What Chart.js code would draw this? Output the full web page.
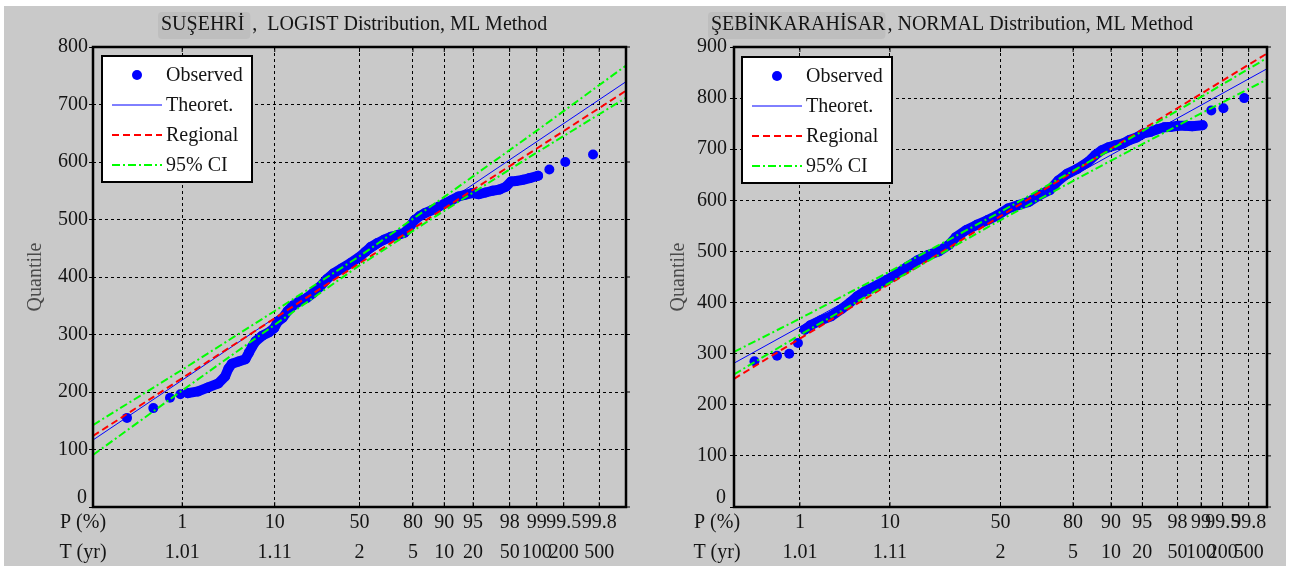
<!DOCTYPE html>
<html>
<head>
<meta charset="utf-8">
<script src="https://cdn.jsdelivr.net/npm/chart.js@4.4.1/dist/chart.umd.min.js"></script>
<style>
html, body { margin: 0; padding: 0; background: #fff; }
#bg { position: absolute; left: 4px; top: 6px; width: 1282px; height: 560px; background: #c9c9c9; }
canvas { position: absolute; top: 0; }
#left { left: 0; }
#right { left: 645px; }
</style>
</head>
<body>
<div id="bg"></div>
<canvas id="left" width="645" height="566"></canvas>
<canvas id="right" width="645" height="566"></canvas>
<script>
// probability paper ticks (non-exceedance %, return period)
const pTicks = [1, 10, 50, 80, 90, 95, 98, 99, 99.5, 99.8];
const tLabels = ['1.01', '1.11', '2', '5', '10', '20', '50', '100', '200', '500'];
// P (%) where the fitted lines were read
const linePct = [0.1, 1, 10, 50, 90, 99, 99.9];

// SUŞEHRİ, logistic paper: x = reduced variate ln(p/(1-p))
const suObsVar = [-6.025, -5.343, -4.912, -4.642, -4.447, -4.185, -3.923, -3.658, -3.484, -3.396,
  -3.307, -3.133, -2.957, -2.869, -2.780, -2.695, -2.518, -2.342, -2.212, -2.124,
  -1.991, -1.861, -1.729, -1.552, -1.378, -1.202, -1.028, -0.851, -0.678, -0.457,
  -0.239, -0.018, 0.156, 0.288, 0.465, 0.639, 0.815, 0.989, 1.166, 1.298,
  1.428, 1.560, 1.693, 1.867, 2.043, 2.217, 2.394, 2.567, 2.744, 2.921,
  3.094, 3.271, 3.445, 3.621, 3.795, 3.928, 4.060, 4.234, 4.411, 4.629,
  4.920, 5.332, 6.052];
const suObsQ = [155, 172, 190, 196, 198, 201, 208, 215, 227, 241,
  249, 253, 257, 268, 279, 288, 298, 304, 311, 322,
  329, 341, 350, 358, 363, 372, 383, 396, 406, 415,
  424, 434, 444, 452, 459, 465, 470, 473, 477, 487,
  499, 506, 511, 516, 522, 528, 534, 540, 543, 546,
  544, 547, 550, 552, 557, 566, 567, 569, 572, 576,
  587, 600, 613];
const suBand = [4, 59];
const suTheo = [116.5, 220.7, 328.9, 428.1, 527.3, 635.5, 739.7];
const suReg = [123.5, 224, 328.2, 423.8, 519.3, 623.5, 724];
const suCiUp = [142.5, 238.7, 340.9, 436.1, 539.3, 654.5, 767.7];
const suCiLo = [90.5, 202.7, 316.9, 420.1, 515.3, 616.5, 711.7];

// ŞEBİNKARAHİSAR, normal paper: x = standard normal variate z
const sbObsVar = [-2.853, -2.591, -2.450, -2.349, -2.269, -2.209, -2.087, -1.966, -1.846, -1.745,
  -1.664, -1.563, -1.443, -1.322, -1.202, -1.080, -0.959, -0.839, -0.718, -0.597,
  -0.517, -0.395, -0.275, -0.154, -0.034, 0.088, 0.209, 0.329, 0.450, 0.571,
  0.672, 0.773, 0.893, 1.014, 1.095, 1.175, 1.256, 1.336, 1.417, 1.497,
  1.578, 1.658, 1.739, 1.819, 1.900, 1.980, 2.061, 2.141, 2.222, 2.343,
  2.444, 2.585, 2.826];
const sbObsQ = [285, 296, 300, 321, 347, 355, 365, 373, 387, 400,
  412, 423, 433, 444, 456, 470, 483, 493, 500, 513,
  528, 542, 552, 561, 571, 584, 591, 597, 610, 620,
  639, 652, 662, 675, 688, 698, 704, 708, 711, 718,
  723, 731, 734, 739, 743, 744, 746, 746, 745, 747,
  776, 780, 800];
const sbBand = [4, 49];
const sbTheo = [281.4, 352.6, 450, 569.4, 688.8, 786.2, 857.4];
const sbReg = [250.7, 329.4, 437, 569, 701, 808.6, 887.3];
const sbCiUp = [303.4, 368.6, 461, 577.4, 699.8, 802.2, 878.4];
const sbCiLo = [259.4, 336.6, 439, 561.4, 677.8, 770.2, 836.4];

const FONT_FAMILY = '"Liberation Serif", "Times New Roman", serif';
const TEXT = '#141414';
Chart.defaults.font.family = FONT_FAMILY;
Chart.defaults.font.size = 20;
Chart.defaults.color = TEXT;

function logit(p) { return Math.log(p / (1 - p)); }

// inverse standard normal cdf (Acklam)
function probit(p) {
  const a = [-39.69683028665376, 220.9460984245205, -275.9285104469687, 138.3577518672690, -30.66479806614716, 2.506628277459239];
  const b = [-54.47609879822406, 161.5858368580409, -155.6989798598866, 66.80131188771972, -13.28068155288572];
  const c = [-0.007784894002430293, -0.3223964580411365, -2.400758277161838, -2.549732539343734, 4.374664141464968, 2.938163982698783];
  const d = [0.007784695709041462, 0.3224671290700398, 2.445134137142996, 3.754408661907416];
  const pl = 0.02425;
  let q, r;
  if (p < pl) {
    q = Math.sqrt(-2 * Math.log(p));
    return (((((c[0] * q + c[1]) * q + c[2]) * q + c[3]) * q + c[4]) * q + c[5]) / ((((d[0] * q + d[1]) * q + d[2]) * q + d[3]) * q + 1);
  }
  if (p > 1 - pl) {
    q = Math.sqrt(-2 * Math.log(1 - p));
    return -(((((c[0] * q + c[1]) * q + c[2]) * q + c[3]) * q + c[4]) * q + c[5]) / ((((d[0] * q + d[1]) * q + d[2]) * q + d[3]) * q + 1);
  }
  q = p - 0.5; r = q * q;
  return (((((a[0] * r + a[1]) * r + a[2]) * r + a[3]) * r + a[4]) * r + a[5]) * q / (((((b[0] * r + b[1]) * r + b[2]) * r + b[3]) * r + b[4]) * r + 1);
}

const paperPlugin = {
  id: 'paper',
  afterDraw(chart, args, o) {
    const ctx = chart.ctx, a = chart.chartArea;
    const xs = chart.scales.x, ys = chart.scales.y;
    ctx.save();
    ctx.setLineDash([]);
    ctx.strokeStyle = '#000';
    ctx.lineWidth = 1;
    ctx.beginPath();
    xs.ticks.forEach(t => {
      const px = xs.getPixelForValue(t.value);
      ctx.moveTo(px, a.top); ctx.lineTo(px, a.top + 5);
      ctx.moveTo(px, a.bottom); ctx.lineTo(px, a.bottom - 5);
    });
    ys.ticks.forEach(t => {
      const py = ys.getPixelForValue(t.value);
      ctx.moveTo(a.right, py); ctx.lineTo(a.right + 4, py);
    });
    ctx.stroke();
    ctx.lineWidth = 2.5;
    ctx.strokeRect(a.left, a.top, a.right - a.left, a.bottom - a.top);

    ctx.font = '20px ' + FONT_FAMILY;
    ctx.fillStyle = TEXT;
    ctx.textBaseline = 'middle';
    ctx.textAlign = 'right';
    ctx.fillText('0', a.left - o.zeroGap, a.bottom - 9);
    ctx.textAlign = 'center';
    ctx.fillText('P (%)', o.captionX, a.bottom + 16);
    ctx.fillText('T (yr)', o.captionX, a.bottom + 46);

    // title: station name on a soft box, then the rest
    ctx.textAlign = 'left';
    const w = ctx.measureText(o.station).width;
    ctx.fillStyle = 'rgba(0,0,0,0.05)';
    ctx.beginPath();
    ctx.roundRect(o.titleX - 3, 12, w + o.gap, 27, 4);
    ctx.fill();
    ctx.fillStyle = TEXT;
    ctx.fillText(o.station, o.titleX, o.titleY);
    ctx.fillText(o.rest, o.titleX + w + o.gap - 1, o.titleY);

    // legend
    const L = o.legend;
    ctx.fillStyle = '#fff';
    ctx.fillRect(L.x, L.y, L.w, L.h);
    ctx.lineWidth = 2;
    ctx.strokeStyle = '#000';
    ctx.strokeRect(L.x, L.y, L.w, L.h);
    ['Observed', 'Theoret.', 'Regional', '95% CI'].forEach((name, i) => {
      const ds = chart.data.datasets.find(d => d.label === name);
      const ry = L.y + 19 + i * 30;
      if (ds.showLine) {
        ctx.strokeStyle = ds.borderColor;
        ctx.lineWidth = ds.borderWidth;
        ctx.setLineDash(ds.borderDash || []);
        ctx.beginPath();
        ctx.moveTo(L.x + 10, ry); ctx.lineTo(L.x + 60, ry);
        ctx.stroke();
        ctx.setLineDash([]);
      } else {
        ctx.fillStyle = ds.backgroundColor;
        ctx.beginPath();
        ctx.arc(L.x + 35, ry, ds.pointRadius, 0, Math.PI * 2);
        ctx.fill();
      }
      ctx.fillStyle = TEXT;
      ctx.fillText(name, L.x + 64, ry + 1);
    });
    ctx.restore();
  }
};

function pts(xs, ys) { return xs.map((x, i) => ({ x: x, y: ys[i] })); }

function buildChart(id, c) {
  const lineX = linePct.map(p => c.tf(p / 100));
  const obs = pts(c.obsVar, c.obsQ);
  const lineDs = (label, data, color, width, dash, order) => ({
    label: label, data: pts(lineX, data), showLine: true, borderColor: color,
    borderWidth: width, borderDash: dash, pointRadius: 0, order: order
  });
  return new Chart(document.getElementById(id), {
    type: 'scatter',
    data: {
      datasets: [
        lineDs('95% CI', c.ciUp, '#00ff00', 2, [8, 3, 2, 3], 1),
        lineDs('', c.ciLo, '#00ff00', 2, [8, 3, 2, 3], 1),
        lineDs('Regional', c.reg, '#ff0000', 2, [7, 4], 2),
        lineDs('Theoret.', c.theo, '#0000ff', 1, [], 3),
        { label: 'Observed', data: obs, showLine: false, backgroundColor: '#0000ff',
          borderWidth: 0, pointRadius: 5, order: 5 },
        { label: '', data: obs.slice(c.band[0], c.band[1] + 1), showLine: true,
          borderColor: '#0000ff', borderWidth: 10, borderCapStyle: 'round',
          borderJoinStyle: 'round', pointRadius: 0, order: 6 }
      ]
    },
    options: {
      responsive: false,
      animation: false,
      events: [],
      layout: { padding: c.padding },
      plugins: {
        legend: { display: false },
        tooltip: { enabled: false },
        paper: c.paper
      },
      scales: {
        x: {
          type: 'linear',
          min: c.tf(0.001),
          max: c.tf(0.999),
          afterBuildTicks: s => { s.ticks = pTicks.map(p => ({ value: c.tf(p / 100) })); },
          afterFit: s => { s.height = 59; },
          grid: { color: '#000', lineWidth: 1, drawTicks: false },
          border: { display: false, dash: [3, 3] },
          ticks: {
            autoSkip: false, maxRotation: 0, minRotation: 0, padding: 1,
            font: { size: 20, lineHeight: 1.5 },
            callback: (v, i) => [String(pTicks[i]), tLabels[i]]
          }
        },
        y: {
          min: 0,
          max: c.yMax,
          afterFit: s => { s.width = c.yWidth; },
          grid: { color: '#000', lineWidth: 1, tickLength: 4, tickBorderDash: [] },
          border: { display: false, dash: [3, 3] },
          ticks: { stepSize: 100, padding: c.yPad, callback: v => (v === 0 ? '' : v) },
          title: { display: true, text: 'Quantile', color: '#4a4a4a', font: { size: 20 } }
        }
      }
    },
    plugins: [paperPlugin]
  });
}

buildChart('left', {
  tf: logit, yMax: 800,
  obsVar: suObsVar, obsQ: suObsQ, band: suBand,
  theo: suTheo, reg: suReg, ciUp: suCiUp, ciLo: suCiLo,
  padding: { left: 20, top: 47, right: 19, bottom: 0 },
  yWidth: 73, yPad: 1,
  paper: {
    station: 'SUŞEHRİ', rest: ',  LOGIST Distribution, ML Method',
    titleX: 161, titleY: 25, gap: 9,
    captionX: 83, zeroGap: 6,
    legend: { x: 102, y: 56, w: 150, h: 126 }
  }
});

buildChart('right', {
  tf: probit, yMax: 900,
  obsVar: sbObsVar, obsQ: sbObsQ, band: sbBand,
  theo: sbTheo, reg: sbReg, ciUp: sbCiUp, ciLo: sbCiLo,
  padding: { left: 18, top: 47, right: 23, bottom: 0 },
  yWidth: 71, yPad: 3,
  paper: {
    station: 'ŞEBİNKARAHİSAR', rest: ', NORMAL Distribution, ML Method',
    titleX: 66, titleY: 25, gap: 3,
    captionX: 72, zeroGap: 8,
    legend: { x: 97, y: 57, w: 150, h: 126 }
  }
});
</script>
</body>
</html>
